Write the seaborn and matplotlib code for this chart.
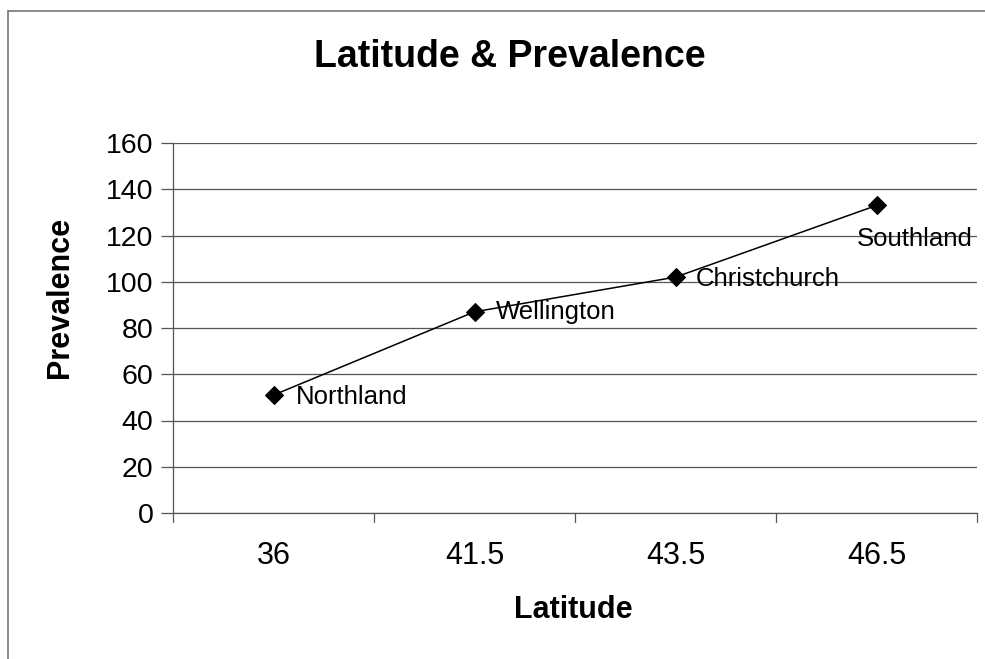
import matplotlib
matplotlib.use("Agg")
import matplotlib.pyplot as plt
import seaborn as sns
import pandas as pd
from matplotlib.lines import Line2D

latitudes = ["36", "41.5", "43.5", "46.5"]
prevalence = [51, 87, 102, 133]
regions = ["Northland", "Wellington", "Christchurch", "Southland"]

sns.set_theme(style="white")
plt.rcParams['font.family'] = ['Liberation Sans', 'DejaVu Sans']
plt.rcParams['text.color'] = 'black'
plt.rcParams['xtick.color'] = 'black'
plt.rcParams['ytick.color'] = 'black'
plt.rcParams['axes.labelcolor'] = 'black'

W, H = 985, 659
fig = plt.figure(figsize=(W / 100, H / 100), dpi=100)
L, R, T, B = 173, 977, 143, 513
ax = fig.add_axes([L / W, 1 - B / H, (R - L) / W, (B - T) / H])

df = pd.DataFrame({"Latitude": latitudes, "Prevalence": prevalence, "Region": regions})
df["pos"] = range(len(df))
sns.lineplot(data=df, x="pos", y="Prevalence", ax=ax, color="black", lw=1.1,
             marker="D", markersize=9, markeredgecolor="black", markerfacecolor="black")

ax.set_xlim(-0.5, len(latitudes) - 0.5)
ax.set_ylim(0, 160)
ax.set_yticks(range(0, 161, 20))
ax.set_xticks(range(len(latitudes)))
ax.set_xticklabels(latitudes)
ax.tick_params(axis="x", length=0, labelsize=22, pad=20, labelcolor="black")
ax.tick_params(axis="y", length=9, width=0.9, color="#555555", labelsize=20.5, pad=5,
               left=True, labelcolor="black")
ax.grid(axis="y", color="#555555", lw=0.9)
ax.set_axisbelow(True)
for s in ["top", "right"]:
    ax.spines[s].set_visible(False)
ax.spines["left"].set_color("#555555")
ax.spines["left"].set_linewidth(0.9)
ax.spines["bottom"].set_color("#555555")
ax.spines["bottom"].set_linewidth(0.9)
ax.set_xlabel("")
ax.set_ylabel("")

# category boundary tick marks below x axis
for b in [i - 0.5 for i in range(len(latitudes) + 1)]:
    ax.add_line(Line2D([b, b], [0, -4], color="#555555", lw=0.9, clip_on=False))

# data labels
offsets = {"Northland": (22, -2),
           "Wellington": (21, 0),
           "Christchurch": (20, -2),
           "Southland": (-20, -34)}
for i, (reg, val) in enumerate(zip(regions, prevalence)):
    dx, dy = offsets[reg]
    ax.annotate(reg, (i, val), xytext=(dx, dy), textcoords="offset pixels",
                ha="left", va="center", fontsize=18.5, color="black")

fig.text(510 / W, 1 - 57 / H, "Latitude & Prevalence", ha="center", va="center",
         fontsize=27, fontweight="bold")
fig.text(573 / W, 1 - 610 / H, "Latitude", ha="center", va="center",
         fontsize=22, fontweight="bold")
fig.text(60 / W, 1 - 297 / H, "Prevalence", ha="center", va="center",
         fontsize=22, fontweight="bold", rotation=90)

# outer chart border (top and left visible)
fig.add_artist(Line2D([8 / W, 1], [1 - 11 / H, 1 - 11 / H], transform=fig.transFigure,
                      color="#777777", lw=1.2))
fig.add_artist(Line2D([8 / W, 8 / W], [1 - 11 / H, 0], transform=fig.transFigure,
                      color="#777777", lw=1.2))

fig.savefig("out.png", dpi=100)
